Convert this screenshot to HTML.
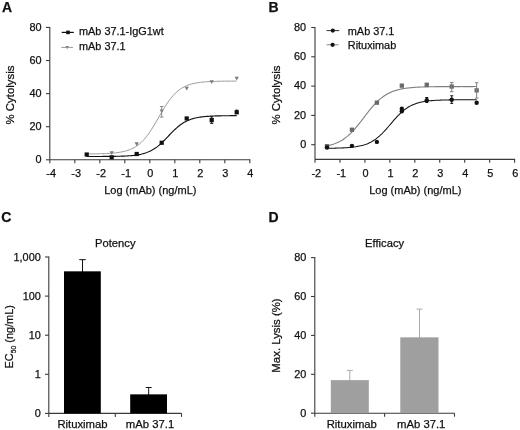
<!DOCTYPE html>
<html><head><meta charset="utf-8"><style>
html,body{margin:0;padding:0;background:#fff;}
svg{display:block;font-family:"Liberation Sans", sans-serif;will-change:transform;}
text{stroke:#111;stroke-width:0.25px;}
</style></head><body>
<svg width="520" height="430" viewBox="0 0 520 430">
<rect width="520" height="430" fill="#fff"/>
<text x="2.00" y="11.70" font-size="14" text-anchor="start" font-weight="bold" fill="#111" >A</text>
<line x1="49.80" y1="26.94" x2="49.80" y2="159.80" stroke="#3a3a3a" stroke-width="1.1"/>
<line x1="46.00" y1="159.80" x2="49.80" y2="159.80" stroke="#3a3a3a" stroke-width="1.1"/>
<text x="41.60" y="163.10" font-size="10.9" text-anchor="end" font-weight="normal" fill="#111" >0</text>
<line x1="46.00" y1="126.71" x2="49.80" y2="126.71" stroke="#3a3a3a" stroke-width="1.1"/>
<text x="41.60" y="130.01" font-size="10.9" text-anchor="end" font-weight="normal" fill="#111" >20</text>
<line x1="46.00" y1="93.62" x2="49.80" y2="93.62" stroke="#3a3a3a" stroke-width="1.1"/>
<text x="41.60" y="96.92" font-size="10.9" text-anchor="end" font-weight="normal" fill="#111" >40</text>
<line x1="46.00" y1="60.53" x2="49.80" y2="60.53" stroke="#3a3a3a" stroke-width="1.1"/>
<text x="41.60" y="63.83" font-size="10.9" text-anchor="end" font-weight="normal" fill="#111" >60</text>
<line x1="46.00" y1="27.44" x2="49.80" y2="27.44" stroke="#3a3a3a" stroke-width="1.1"/>
<text x="41.60" y="30.74" font-size="10.9" text-anchor="end" font-weight="normal" fill="#111" >80</text>
<line x1="49.80" y1="159.80" x2="250.30" y2="159.80" stroke="#3a3a3a" stroke-width="1.1"/>
<line x1="49.80" y1="159.80" x2="49.80" y2="163.30" stroke="#3a3a3a" stroke-width="1.1"/>
<text x="51.10" y="176.60" font-size="10.9" text-anchor="middle" font-weight="normal" fill="#111" >-4</text>
<line x1="74.80" y1="159.80" x2="74.80" y2="163.30" stroke="#3a3a3a" stroke-width="1.1"/>
<text x="76.10" y="176.60" font-size="10.9" text-anchor="middle" font-weight="normal" fill="#111" >-3</text>
<line x1="99.80" y1="159.80" x2="99.80" y2="163.30" stroke="#3a3a3a" stroke-width="1.1"/>
<text x="101.10" y="176.60" font-size="10.9" text-anchor="middle" font-weight="normal" fill="#111" >-2</text>
<line x1="124.80" y1="159.80" x2="124.80" y2="163.30" stroke="#3a3a3a" stroke-width="1.1"/>
<text x="126.10" y="176.60" font-size="10.9" text-anchor="middle" font-weight="normal" fill="#111" >-1</text>
<line x1="149.80" y1="159.80" x2="149.80" y2="163.30" stroke="#3a3a3a" stroke-width="1.1"/>
<text x="150.40" y="176.60" font-size="10.9" text-anchor="middle" font-weight="normal" fill="#111" >0</text>
<line x1="174.80" y1="159.80" x2="174.80" y2="163.30" stroke="#3a3a3a" stroke-width="1.1"/>
<text x="175.40" y="176.60" font-size="10.9" text-anchor="middle" font-weight="normal" fill="#111" >1</text>
<line x1="199.80" y1="159.80" x2="199.80" y2="163.30" stroke="#3a3a3a" stroke-width="1.1"/>
<text x="200.40" y="176.60" font-size="10.9" text-anchor="middle" font-weight="normal" fill="#111" >2</text>
<line x1="224.80" y1="159.80" x2="224.80" y2="163.30" stroke="#3a3a3a" stroke-width="1.1"/>
<text x="225.40" y="176.60" font-size="10.9" text-anchor="middle" font-weight="normal" fill="#111" >3</text>
<line x1="249.80" y1="159.80" x2="249.80" y2="163.30" stroke="#3a3a3a" stroke-width="1.1"/>
<text x="250.40" y="176.60" font-size="10.9" text-anchor="middle" font-weight="normal" fill="#111" >4</text>
<text x="150.30" y="194.30" font-size="11.0" text-anchor="middle" font-weight="normal" fill="#111" >Log (mAb) (ng/mL)</text>
<text x="0.00" y="0.00" font-size="11.4" text-anchor="middle" font-weight="normal" fill="#111" transform="translate(14.3,95) rotate(-90)">% Cytolysis</text>
<polyline points="86.70,153.93 87.95,153.93 89.20,153.91 90.45,153.90 91.70,153.89 92.95,153.87 94.20,153.86 95.45,153.84 96.70,153.82 97.95,153.79 99.20,153.76 100.45,153.73 101.70,153.70 102.95,153.66 104.20,153.61 105.45,153.56 106.70,153.51 107.95,153.44 109.20,153.37 110.45,153.29 111.70,153.20 112.95,153.10 114.20,152.98 115.45,152.86 116.70,152.71 117.95,152.55 119.20,152.37 120.45,152.16 121.70,151.94 122.95,151.68 124.20,151.40 125.45,151.08 126.70,150.72 127.95,150.32 129.20,149.88 130.45,149.39 131.70,148.84 132.95,148.24 134.20,147.57 135.45,146.83 136.70,146.02 137.95,145.12 139.20,144.15 140.45,143.08 141.70,141.92 142.95,140.66 144.20,139.31 145.45,137.85 146.70,136.29 147.95,134.64 149.20,132.89 150.45,131.05 151.70,129.12 152.95,127.12 154.20,125.06 155.45,122.95 156.70,120.79 157.95,118.62 159.20,116.44 160.45,114.26 161.70,112.11 162.95,109.99 164.20,107.93 165.45,105.93 166.70,104.01 167.95,102.17 169.20,100.42 170.45,98.76 171.70,97.20 172.95,95.75 174.20,94.39 175.45,93.14 176.70,91.98 177.95,90.91 179.20,89.93 180.45,89.04 181.70,88.23 182.95,87.49 184.20,86.82 185.45,86.21 186.70,85.67 187.95,85.17 189.20,84.73 190.45,84.33 191.70,83.98 192.95,83.66 194.20,83.37 195.45,83.12 196.70,82.89 197.95,82.69 199.20,82.51 200.45,82.34 201.70,82.20 202.95,82.07 204.20,81.96 205.45,81.86 206.70,81.76 207.95,81.68 209.20,81.61 210.45,81.55 211.70,81.49 212.95,81.44 214.20,81.40 215.45,81.36 216.70,81.32 217.95,81.29 219.20,81.26 220.45,81.24 221.70,81.22 222.95,81.20 224.20,81.18 225.45,81.17 226.70,81.15 227.95,81.14 229.20,81.13 230.45,81.12 231.70,81.11 232.95,81.10 234.20,81.10 235.45,81.09 236.70,81.09" fill="none" stroke="#999" stroke-width="1.0"/>
<polyline points="86.70,156.48 87.95,156.48 89.20,156.48 90.45,156.48 91.70,156.48 92.95,156.47 94.20,156.47 95.45,156.47 96.70,156.47 97.95,156.46 99.20,156.46 100.45,156.45 101.70,156.45 102.95,156.44 104.20,156.44 105.45,156.43 106.70,156.42 107.95,156.41 109.20,156.40 110.45,156.39 111.70,156.37 112.95,156.36 114.20,156.34 115.45,156.32 116.70,156.30 117.95,156.27 119.20,156.24 120.45,156.20 121.70,156.16 122.95,156.12 124.20,156.07 125.45,156.01 126.70,155.95 127.95,155.87 129.20,155.79 130.45,155.70 131.70,155.59 132.95,155.47 134.20,155.33 135.45,155.18 136.70,155.00 137.95,154.81 139.20,154.58 140.45,154.34 141.70,154.06 142.95,153.74 144.20,153.40 145.45,153.01 146.70,152.57 147.95,152.09 149.20,151.56 150.45,150.97 151.70,150.33 152.95,149.62 154.20,148.85 155.45,148.02 156.70,147.12 157.95,146.16 159.20,145.13 160.45,144.04 161.70,142.90 162.95,141.70 164.20,140.47 165.45,139.19 166.70,137.90 167.95,136.58 169.20,135.27 170.45,133.96 171.70,132.66 172.95,131.40 174.20,130.17 175.45,128.99 176.70,127.85 177.95,126.78 179.20,125.76 180.45,124.81 181.70,123.93 182.95,123.11 184.20,122.35 185.45,121.66 186.70,121.02 187.95,120.45 189.20,119.92 190.45,119.45 191.70,119.03 192.95,118.65 194.20,118.31 195.45,118.00 196.70,117.73 197.95,117.48 199.20,117.27 200.45,117.08 201.70,116.91 202.95,116.76 204.20,116.62 205.45,116.50 206.70,116.40 207.95,116.31 209.20,116.23 210.45,116.15 211.70,116.09 212.95,116.04 214.20,115.99 215.45,115.94 216.70,115.90 217.95,115.87 219.20,115.84 220.45,115.82 221.70,115.79 222.95,115.77 224.20,115.75 225.45,115.74 226.70,115.73 227.95,115.71 229.20,115.70 230.45,115.69 231.70,115.68 232.95,115.68 234.20,115.67 235.45,115.67 236.70,115.66" fill="none" stroke="#111" stroke-width="1.15"/>
<polygon points="84.60,152.95 88.80,152.95 86.70,156.73" fill="#7a7a7a"/>
<polygon points="109.60,151.29 113.80,151.29 111.70,155.07" fill="#7a7a7a"/>
<polygon points="134.60,142.36 138.80,142.36 136.70,146.14" fill="#7a7a7a"/>
<polygon points="159.60,109.43 163.80,109.43 161.70,113.21" fill="#7a7a7a"/>
<polygon points="184.60,86.77 188.80,86.77 186.70,90.55" fill="#7a7a7a"/>
<polygon points="209.60,80.15 213.80,80.15 211.70,83.93" fill="#7a7a7a"/>
<polygon points="234.60,76.84 238.80,76.84 236.70,80.62" fill="#7a7a7a"/>
<line x1="161.70" y1="106.53" x2="161.70" y2="117.11" stroke="#8a8a8a" stroke-width="1"/>
<line x1="159.95" y1="106.53" x2="163.45" y2="106.53" stroke="#8a8a8a" stroke-width="1"/>
<line x1="159.95" y1="117.11" x2="163.45" y2="117.11" stroke="#8a8a8a" stroke-width="1"/>
<rect x="84.60" y="152.41" width="4.2" height="4.2" fill="#111"/>
<rect x="109.60" y="155.22" width="4.2" height="4.2" fill="#111"/>
<rect x="134.60" y="151.91" width="4.2" height="4.2" fill="#111"/>
<rect x="159.60" y="140.66" width="4.2" height="4.2" fill="#111"/>
<rect x="184.60" y="116.34" width="4.2" height="4.2" fill="#111"/>
<rect x="209.60" y="117.99" width="4.2" height="4.2" fill="#111"/>
<rect x="234.60" y="110.22" width="4.2" height="4.2" fill="#111"/>
<line x1="211.70" y1="116.78" x2="211.70" y2="123.40" stroke="#111" stroke-width="1"/>
<line x1="210.20" y1="116.78" x2="213.20" y2="116.78" stroke="#111" stroke-width="1"/>
<line x1="210.20" y1="123.40" x2="213.20" y2="123.40" stroke="#111" stroke-width="1"/>
<line x1="236.70" y1="110.17" x2="236.70" y2="113.47" stroke="#111" stroke-width="1"/>
<line x1="235.20" y1="110.17" x2="238.20" y2="110.17" stroke="#111" stroke-width="1"/>
<line x1="235.20" y1="113.47" x2="238.20" y2="113.47" stroke="#111" stroke-width="1"/>
<line x1="61.70" y1="32.40" x2="73.80" y2="32.40" stroke="#111" stroke-width="1.2"/>
<rect x="66.20" y="30.60" width="3.6" height="3.6" fill="#111"/>
<text x="79.00" y="35.30" font-size="10.9" text-anchor="start" font-weight="normal" fill="#111" >mAb 37.1-IgG1wt</text>
<line x1="61.20" y1="47.40" x2="73.00" y2="47.40" stroke="#999" stroke-width="1.0"/>
<polygon points="65.40,45.98 69.00,45.98 67.20,49.22" fill="#888"/>
<text x="79.00" y="49.90" font-size="10.9" text-anchor="start" font-weight="normal" fill="#111" >mAb 37.1</text>
<text x="268.50" y="11.70" font-size="14" text-anchor="start" font-weight="bold" fill="#111" >B</text>
<line x1="315.00" y1="27.00" x2="315.00" y2="159.35" stroke="#3a3a3a" stroke-width="1.1"/>
<line x1="311.20" y1="144.70" x2="315.00" y2="144.70" stroke="#3a3a3a" stroke-width="1.1"/>
<text x="306.20" y="148.00" font-size="10.9" text-anchor="end" font-weight="normal" fill="#111" >0</text>
<line x1="311.20" y1="115.40" x2="315.00" y2="115.40" stroke="#3a3a3a" stroke-width="1.1"/>
<text x="306.20" y="118.70" font-size="10.9" text-anchor="end" font-weight="normal" fill="#111" >20</text>
<line x1="311.20" y1="86.10" x2="315.00" y2="86.10" stroke="#3a3a3a" stroke-width="1.1"/>
<text x="306.20" y="89.40" font-size="10.9" text-anchor="end" font-weight="normal" fill="#111" >40</text>
<line x1="311.20" y1="56.80" x2="315.00" y2="56.80" stroke="#3a3a3a" stroke-width="1.1"/>
<text x="306.20" y="60.10" font-size="10.9" text-anchor="end" font-weight="normal" fill="#111" >60</text>
<line x1="311.20" y1="27.50" x2="315.00" y2="27.50" stroke="#3a3a3a" stroke-width="1.1"/>
<text x="306.20" y="30.80" font-size="10.9" text-anchor="end" font-weight="normal" fill="#111" >80</text>
<line x1="315.00" y1="159.35" x2="515.10" y2="159.35" stroke="#3a3a3a" stroke-width="1.1"/>
<line x1="315.00" y1="159.35" x2="315.00" y2="162.85" stroke="#3a3a3a" stroke-width="1.1"/>
<text x="316.30" y="177.35" font-size="10.9" text-anchor="middle" font-weight="normal" fill="#111" >-2</text>
<line x1="339.95" y1="159.35" x2="339.95" y2="162.85" stroke="#3a3a3a" stroke-width="1.1"/>
<text x="341.25" y="177.35" font-size="10.9" text-anchor="middle" font-weight="normal" fill="#111" >-1</text>
<line x1="364.90" y1="159.35" x2="364.90" y2="162.85" stroke="#3a3a3a" stroke-width="1.1"/>
<text x="365.50" y="177.35" font-size="10.9" text-anchor="middle" font-weight="normal" fill="#111" >0</text>
<line x1="389.85" y1="159.35" x2="389.85" y2="162.85" stroke="#3a3a3a" stroke-width="1.1"/>
<text x="390.45" y="177.35" font-size="10.9" text-anchor="middle" font-weight="normal" fill="#111" >1</text>
<line x1="414.80" y1="159.35" x2="414.80" y2="162.85" stroke="#3a3a3a" stroke-width="1.1"/>
<text x="415.40" y="177.35" font-size="10.9" text-anchor="middle" font-weight="normal" fill="#111" >2</text>
<line x1="439.75" y1="159.35" x2="439.75" y2="162.85" stroke="#3a3a3a" stroke-width="1.1"/>
<text x="440.35" y="177.35" font-size="10.9" text-anchor="middle" font-weight="normal" fill="#111" >3</text>
<line x1="464.70" y1="159.35" x2="464.70" y2="162.85" stroke="#3a3a3a" stroke-width="1.1"/>
<text x="465.30" y="177.35" font-size="10.9" text-anchor="middle" font-weight="normal" fill="#111" >4</text>
<line x1="489.65" y1="159.35" x2="489.65" y2="162.85" stroke="#3a3a3a" stroke-width="1.1"/>
<text x="490.25" y="177.35" font-size="10.9" text-anchor="middle" font-weight="normal" fill="#111" >5</text>
<line x1="514.60" y1="159.35" x2="514.60" y2="162.85" stroke="#3a3a3a" stroke-width="1.1"/>
<text x="515.20" y="177.35" font-size="10.9" text-anchor="middle" font-weight="normal" fill="#111" >6</text>
<text x="415.30" y="194.30" font-size="11.0" text-anchor="middle" font-weight="normal" fill="#111" >Log (mAb) (ng/mL)</text>
<text x="0.00" y="0.00" font-size="11.4" text-anchor="middle" font-weight="normal" fill="#111" transform="translate(280.3,95) rotate(-90)">% Cytolysis</text>
<polyline points="326.98,145.93 328.22,145.65 329.47,145.35 330.72,145.01 331.96,144.65 333.21,144.25 334.46,143.81 335.71,143.33 336.95,142.80 338.20,142.23 339.45,141.60 340.70,140.93 341.94,140.19 343.19,139.40 344.44,138.54 345.69,137.63 346.94,136.64 348.18,135.59 349.43,134.48 350.68,133.30 351.93,132.05 353.17,130.74 354.42,129.36 355.67,127.93 356.92,126.45 358.16,124.93 359.41,123.36 360.66,121.76 361.90,120.14 363.15,118.51 364.40,116.87 365.65,115.23 366.89,113.61 368.14,112.00 369.39,110.43 370.64,108.90 371.88,107.41 373.13,105.97 374.38,104.58 375.63,103.26 376.88,102.00 378.12,100.80 379.37,99.67 380.62,98.61 381.87,97.61 383.11,96.68 384.36,95.82 385.61,95.01 386.86,94.27 388.10,93.58 389.35,92.94 390.60,92.36 391.85,91.82 393.09,91.33 394.34,90.89 395.59,90.48 396.83,90.10 398.08,89.76 399.33,89.46 400.58,89.18 401.82,88.92 403.07,88.69 404.32,88.48 405.57,88.29 406.81,88.12 408.06,87.96 409.31,87.82 410.56,87.70 411.81,87.58 413.05,87.48 414.30,87.39 415.55,87.30 416.79,87.23 418.04,87.16 419.29,87.10 420.54,87.04 421.78,86.99 423.03,86.95 424.28,86.91 425.53,86.87 426.77,86.84 428.02,86.81 429.27,86.78 430.52,86.76 431.76,86.73 433.01,86.71 434.26,86.70 435.51,86.68 436.75,86.67 438.00,86.65 439.25,86.64 440.50,86.63 441.75,86.62 442.99,86.61 444.24,86.61 445.49,86.60 446.74,86.59 447.98,86.59 449.23,86.58 450.48,86.58 451.73,86.58 452.97,86.57 454.22,86.57 455.47,86.57 456.72,86.56 457.96,86.56 459.21,86.56 460.46,86.56 461.71,86.55 462.95,86.55 464.20,86.55 465.45,86.55 466.69,86.55 467.94,86.55 469.19,86.55 470.44,86.55 471.69,86.55 472.93,86.55 474.18,86.54 475.43,86.54 476.67,86.54" fill="none" stroke="#808080" stroke-width="1.15"/>
<polyline points="326.98,148.26 328.22,148.25 329.47,148.23 330.72,148.22 331.96,148.20 333.21,148.18 334.46,148.15 335.71,148.13 336.95,148.10 338.20,148.06 339.45,148.02 340.70,147.98 341.94,147.93 343.19,147.88 344.44,147.81 345.69,147.74 346.94,147.67 348.18,147.58 349.43,147.48 350.68,147.37 351.93,147.24 353.17,147.10 354.42,146.94 355.67,146.77 356.92,146.57 358.16,146.35 359.41,146.10 360.66,145.83 361.90,145.52 363.15,145.18 364.40,144.80 365.65,144.38 366.89,143.92 368.14,143.40 369.39,142.84 370.64,142.22 371.88,141.54 373.13,140.80 374.38,140.00 375.63,139.13 376.88,138.19 378.12,137.18 379.37,136.11 380.62,134.96 381.87,133.76 383.11,132.50 384.36,131.18 385.61,129.81 386.86,128.41 388.10,126.97 389.35,125.51 390.60,124.04 391.85,122.58 393.09,121.12 394.34,119.68 395.59,118.28 396.83,116.91 398.08,115.59 399.33,114.33 400.58,113.12 401.82,111.98 403.07,110.91 404.32,109.90 405.57,108.96 406.81,108.09 408.06,107.29 409.31,106.55 410.56,105.87 411.81,105.25 413.05,104.68 414.30,104.17 415.55,103.70 416.79,103.28 418.04,102.91 419.29,102.56 420.54,102.26 421.78,101.98 423.03,101.74 424.28,101.52 425.53,101.32 426.77,101.14 428.02,100.99 429.27,100.84 430.52,100.72 431.76,100.61 433.01,100.51 434.26,100.42 435.51,100.34 436.75,100.27 438.00,100.21 439.25,100.16 440.50,100.11 441.75,100.06 442.99,100.03 444.24,99.99 445.49,99.96 446.74,99.93 447.98,99.91 449.23,99.89 450.48,99.87 451.73,99.85 452.97,99.84 454.22,99.83 455.47,99.81 456.72,99.80 457.96,99.80 459.21,99.79 460.46,99.78 461.71,99.77 462.95,99.77 464.20,99.76 465.45,99.76 466.69,99.75 467.94,99.75 469.19,99.75 470.44,99.75 471.69,99.74 472.93,99.74 474.18,99.74 475.43,99.74 476.67,99.74" fill="none" stroke="#111" stroke-width="1.05"/>
<rect x="324.83" y="144.01" width="4.3" height="4.3" fill="#6a6a6a"/>
<rect x="349.78" y="127.61" width="4.3" height="4.3" fill="#6a6a6a"/>
<rect x="374.73" y="100.50" width="4.3" height="4.3" fill="#6a6a6a"/>
<rect x="399.68" y="83.51" width="4.3" height="4.3" fill="#6a6a6a"/>
<rect x="424.62" y="82.63" width="4.3" height="4.3" fill="#6a6a6a"/>
<rect x="449.58" y="84.39" width="4.3" height="4.3" fill="#6a6a6a"/>
<rect x="474.52" y="88.20" width="4.3" height="4.3" fill="#6a6a6a"/>
<line x1="451.73" y1="82.44" x2="451.73" y2="91.67" stroke="#808080" stroke-width="1"/>
<line x1="449.98" y1="82.44" x2="453.48" y2="82.44" stroke="#808080" stroke-width="1"/>
<line x1="449.98" y1="91.67" x2="453.48" y2="91.67" stroke="#808080" stroke-width="1"/>
<line x1="476.67" y1="82.73" x2="476.67" y2="98.11" stroke="#808080" stroke-width="1"/>
<line x1="474.92" y1="82.73" x2="478.42" y2="82.73" stroke="#808080" stroke-width="1"/>
<line x1="474.92" y1="98.11" x2="478.42" y2="98.11" stroke="#808080" stroke-width="1"/>
<circle cx="326.98" cy="147.48" r="2.2" fill="#111"/>
<circle cx="351.93" cy="145.87" r="2.2" fill="#111"/>
<circle cx="376.88" cy="141.92" r="2.2" fill="#111"/>
<circle cx="401.82" cy="111.30" r="2.2" fill="#111"/>
<circle cx="401.82" cy="108.81" r="2.2" fill="#111"/>
<circle cx="426.77" cy="100.16" r="2.2" fill="#111"/>
<circle cx="451.73" cy="99.72" r="2.2" fill="#111"/>
<circle cx="476.67" cy="102.80" r="2.2" fill="#111"/>
<line x1="426.77" y1="97.53" x2="426.77" y2="102.51" stroke="#111" stroke-width="1"/>
<line x1="425.27" y1="97.53" x2="428.27" y2="97.53" stroke="#111" stroke-width="1"/>
<line x1="425.27" y1="102.51" x2="428.27" y2="102.51" stroke="#111" stroke-width="1"/>
<line x1="451.73" y1="95.77" x2="451.73" y2="103.39" stroke="#111" stroke-width="1"/>
<line x1="450.23" y1="95.77" x2="453.23" y2="95.77" stroke="#111" stroke-width="1"/>
<line x1="450.23" y1="103.39" x2="453.23" y2="103.39" stroke="#111" stroke-width="1"/>
<line x1="326.60" y1="30.60" x2="339.30" y2="30.60" stroke="#333" stroke-width="1"/>
<circle cx="332.80" cy="30.60" r="2.1" fill="#111"/>
<text x="347.80" y="34.60" font-size="10.9" text-anchor="start" font-weight="normal" fill="#111" >mAb 37.1</text>
<line x1="326.60" y1="44.80" x2="338.60" y2="44.80" stroke="#888" stroke-width="1"/>
<circle cx="332.60" cy="44.80" r="2.1" fill="#111"/>
<text x="347.80" y="48.70" font-size="10.9" text-anchor="start" font-weight="normal" fill="#111" >Rituximab</text>
<text x="1.20" y="222.30" font-size="14" text-anchor="start" font-weight="bold" fill="#111" >C</text>
<line x1="48.80" y1="256.50" x2="48.80" y2="413.40" stroke="#3a3a3a" stroke-width="1.1"/>
<line x1="45.00" y1="413.40" x2="48.80" y2="413.40" stroke="#3a3a3a" stroke-width="1.1"/>
<text x="40.80" y="417.20" font-size="10.9" text-anchor="end" font-weight="normal" fill="#111" >0</text>
<line x1="45.00" y1="374.30" x2="48.80" y2="374.30" stroke="#3a3a3a" stroke-width="1.1"/>
<text x="40.80" y="378.10" font-size="10.9" text-anchor="end" font-weight="normal" fill="#111" >1</text>
<line x1="45.00" y1="335.20" x2="48.80" y2="335.20" stroke="#3a3a3a" stroke-width="1.1"/>
<text x="40.80" y="339.00" font-size="10.9" text-anchor="end" font-weight="normal" fill="#111" >10</text>
<line x1="45.00" y1="296.10" x2="48.80" y2="296.10" stroke="#3a3a3a" stroke-width="1.1"/>
<text x="40.80" y="299.90" font-size="10.9" text-anchor="end" font-weight="normal" fill="#111" >100</text>
<line x1="45.00" y1="257.00" x2="48.80" y2="257.00" stroke="#3a3a3a" stroke-width="1.1"/>
<text x="40.80" y="260.80" font-size="10.9" text-anchor="end" font-weight="normal" fill="#111" >1,000</text>
<line x1="48.80" y1="413.40" x2="181.50" y2="413.40" stroke="#3a3a3a" stroke-width="1.1"/>
<line x1="115.30" y1="413.40" x2="115.30" y2="416.90" stroke="#3a3a3a" stroke-width="1.1"/>
<line x1="48.80" y1="413.40" x2="48.80" y2="416.90" stroke="#3a3a3a" stroke-width="1.1"/>
<line x1="181.50" y1="413.40" x2="181.50" y2="416.90" stroke="#3a3a3a" stroke-width="1.1"/>
<line x1="82.50" y1="259.66" x2="82.50" y2="272.33" stroke="#111" stroke-width="1"/>
<line x1="79.25" y1="259.66" x2="85.75" y2="259.66" stroke="#111" stroke-width="1"/>
<rect x="64" y="271.33" width="36.8" height="142.07" fill="#000"/>
<line x1="148.70" y1="387.49" x2="148.70" y2="395.35" stroke="#111" stroke-width="1"/>
<line x1="145.70" y1="387.49" x2="151.70" y2="387.49" stroke="#111" stroke-width="1"/>
<rect x="130.2" y="394.35" width="36.8" height="19.05" fill="#000"/>
<text x="82.50" y="428.30" font-size="11.3" text-anchor="middle" font-weight="normal" fill="#111" >Rituximab</text>
<text x="150.00" y="428.30" font-size="11.3" text-anchor="middle" font-weight="normal" fill="#111" >mAb 37.1</text>
<text x="115.30" y="246.60" font-size="11.2" text-anchor="middle" font-weight="normal" fill="#111" >Potency</text>
<text transform="translate(13.2,336.8) rotate(-90)" font-size="10.9" text-anchor="middle" fill="#111">EC<tspan font-size="6.8" dy="3.0">50</tspan><tspan dy="-3.0"> (ng/mL)</tspan></text>
<text x="268.50" y="222.20" font-size="14" text-anchor="start" font-weight="bold" fill="#111" >D</text>
<line x1="314.80" y1="257.10" x2="314.80" y2="413.20" stroke="#3a3a3a" stroke-width="1.1"/>
<line x1="311.00" y1="413.20" x2="314.80" y2="413.20" stroke="#3a3a3a" stroke-width="1.1"/>
<text x="306.30" y="417.00" font-size="10.9" text-anchor="end" font-weight="normal" fill="#111" >0</text>
<line x1="311.00" y1="374.30" x2="314.80" y2="374.30" stroke="#3a3a3a" stroke-width="1.1"/>
<text x="306.30" y="378.10" font-size="10.9" text-anchor="end" font-weight="normal" fill="#111" >20</text>
<line x1="311.00" y1="335.40" x2="314.80" y2="335.40" stroke="#3a3a3a" stroke-width="1.1"/>
<text x="306.30" y="339.20" font-size="10.9" text-anchor="end" font-weight="normal" fill="#111" >40</text>
<line x1="311.00" y1="296.50" x2="314.80" y2="296.50" stroke="#3a3a3a" stroke-width="1.1"/>
<text x="306.30" y="300.30" font-size="10.9" text-anchor="end" font-weight="normal" fill="#111" >60</text>
<line x1="311.00" y1="257.60" x2="314.80" y2="257.60" stroke="#3a3a3a" stroke-width="1.1"/>
<text x="306.30" y="261.40" font-size="10.9" text-anchor="end" font-weight="normal" fill="#111" >80</text>
<line x1="314.80" y1="413.20" x2="454.50" y2="413.20" stroke="#3a3a3a" stroke-width="1.1"/>
<line x1="384.60" y1="413.20" x2="384.60" y2="416.70" stroke="#3a3a3a" stroke-width="1.1"/>
<line x1="314.80" y1="413.20" x2="314.80" y2="416.70" stroke="#3a3a3a" stroke-width="1.1"/>
<line x1="454.50" y1="413.20" x2="454.50" y2="416.70" stroke="#3a3a3a" stroke-width="1.1"/>
<line x1="349.80" y1="370.41" x2="349.80" y2="381.13" stroke="#ababab" stroke-width="1"/>
<line x1="346.80" y1="370.41" x2="352.80" y2="370.41" stroke="#ababab" stroke-width="1"/>
<rect x="330.8" y="380.13" width="38" height="33.06" fill="#9f9f9f"/>
<line x1="419.50" y1="309.14" x2="419.50" y2="338.34" stroke="#ababab" stroke-width="1"/>
<line x1="416.50" y1="309.14" x2="422.50" y2="309.14" stroke="#ababab" stroke-width="1"/>
<rect x="400.3" y="337.34" width="38.2" height="75.86" fill="#9f9f9f"/>
<text x="351.80" y="428.20" font-size="11.3" text-anchor="middle" font-weight="normal" fill="#111" >Rituximab</text>
<text x="421.20" y="428.20" font-size="11.3" text-anchor="middle" font-weight="normal" fill="#111" >mAb 37.1</text>
<text x="384.60" y="246.50" font-size="11.2" text-anchor="middle" font-weight="normal" fill="#111" >Efficacy</text>
<text x="0.00" y="0.00" font-size="11.4" text-anchor="middle" font-weight="normal" fill="#111" transform="translate(279.6,335.5) rotate(-90)">Max. Lysis (%)</text>
</svg>
</body></html>
